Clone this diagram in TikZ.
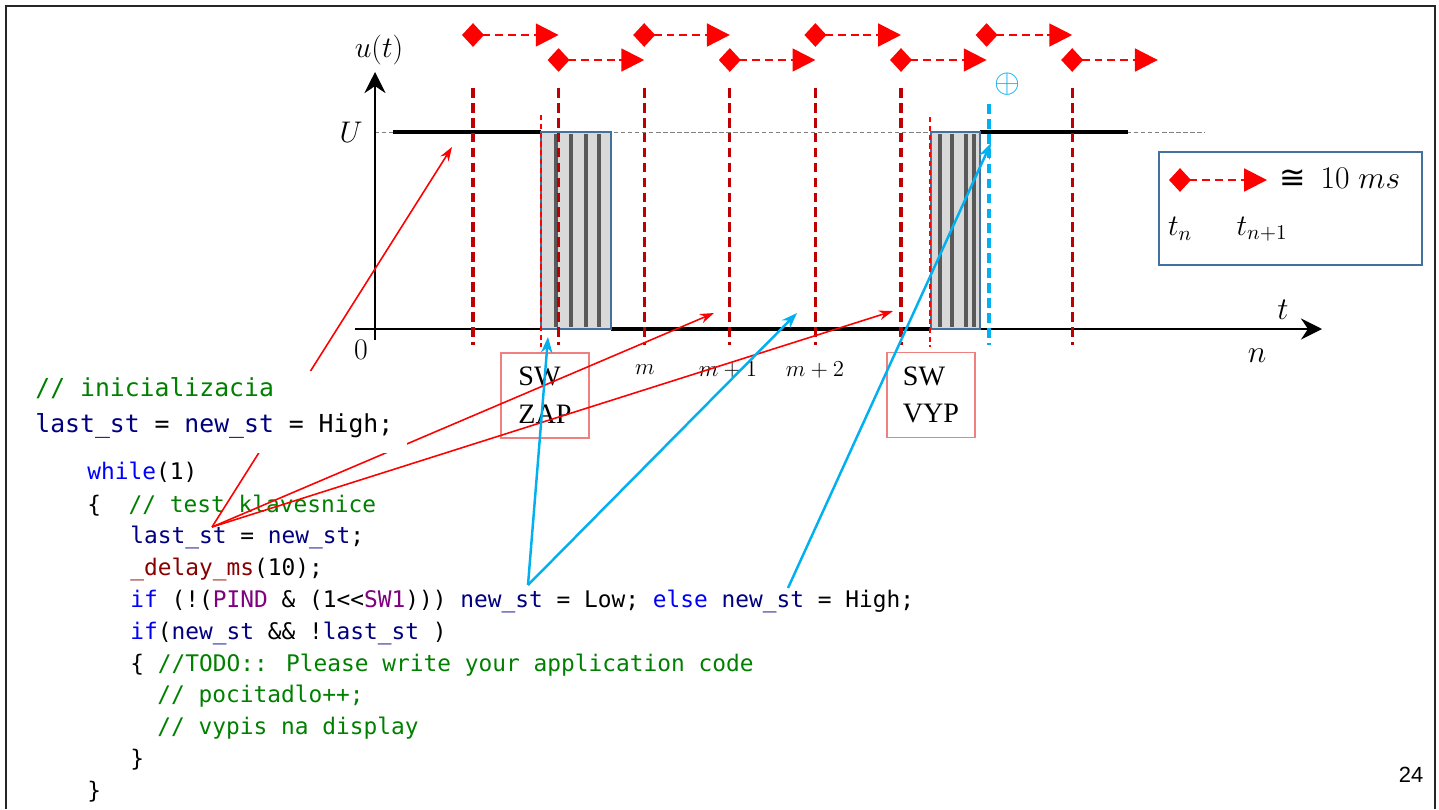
\RequirePackage{fix-cm}
\documentclass[tikz,border=0pt]{standalone}
\usepackage{fontspec}
\usepackage{amsmath}
\usepackage{tikz}
\usetikzlibrary{arrows.meta}
\newfontfamily\codefont{DejaVu Sans Mono}
\newfontfamily\swfont{Liberation Serif}
\newfontfamily\pgfont{Liberation Sans}
\newfontfamily\relfont{DejaVu Sans}
\definecolor{tickred}{RGB}{192,0,0}
\definecolor{hotred}{RGB}{255,0,0}
\definecolor{skyblue}{RGB}{0,176,240}
\definecolor{boxblue}{RGB}{65,113,156}
\definecolor{barfill}{RGB}{217,217,217}
\definecolor{bargray}{RGB}{89,89,89}
\definecolor{swred}{RGB}{240,128,128}
\definecolor{cgreen}{RGB}{0,128,0}
\definecolor{cnavy}{RGB}{0,0,128}
\definecolor{ckwblue}{RGB}{0,0,255}
\definecolor{cfnred}{RGB}{136,0,0}
\definecolor{cmacro}{RGB}{128,0,128}
\newcommand{\ccmt}[1]{\textcolor{cgreen}{#1}}
\newcommand{\cvar}[1]{\textcolor{cnavy}{#1}}
\newcommand{\ckw}[1]{\textcolor{ckwblue}{#1}}
\newcommand{\cfn}[1]{\textcolor{cfnred}{#1}}
\newcommand{\cmac}[1]{\textcolor{cmacro}{#1}}
\tikzset{
  slideframe/.style={line width=1.3pt, black!85},
  ulevel/.style={gray, line width=0.5pt, dash pattern=on 2.5pt off 1.5pt},
  axisline/.style={line width=1.1pt, -{Stealth[length=12pt,width=12pt,inset=4pt]}},
  sig/.style={line width=2.8pt},
  bounce/.style={fill=barfill, draw=boxblue, line width=1.3pt},
  chatter/.style={bargray, line width=2.2pt},
  edgeline/.style={hotred, line width=0.6pt, dash pattern=on 3pt off 2pt},
  tickline/.style={tickred, line width=1.8pt, dash pattern=on 5.5pt off 3pt},
  sampline/.style={skyblue, line width=1.8pt, dash pattern=on 5.5pt off 3pt},
  period/.style={hotred, line width=1.2pt, dash pattern=on 4.5pt off 2.8pt,
                 {Diamond[length=12.5pt,width=13.5pt]}-{Triangle[length=13pt,width=13pt]},
                 shorten <=-6.25pt},
  legbox/.style={draw=boxblue, line width=1.1pt, minimum width=5.26cm, minimum height=2.26cm},
  lbl/.style={inner sep=0pt, font=\fontsize{17}{20}\selectfont},
  idx/.style={inner sep=0pt, font=\fontsize{13}{16}\selectfont},
  swbox/.style={draw=swred, line width=0.6pt, minimum width=1.76cm, minimum height=1.7cm,
                align=left, inner sep=0pt, font=\swfont\fontsize{16}{21.5}\selectfont},
  codeln/.style={anchor=base west, inner sep=0pt, font=\codefont\fontsize{13}{18}\selectfont},
  initln/.style={codeln, font=\codefont\fontsize{14.1}{20}\selectfont},
  ptr/.style={hotred, line width=0.9pt, -{Stealth[length=8pt,width=5.5pt]}},
  bptr/.style={skyblue, line width=1.4pt, -{Stealth[length=9pt,width=6.5pt]}},
  pgnum/.style={inner sep=0pt, font=\pgfont\fontsize{12.5}{15}\selectfont},
}
\begin{document}
\begin{tikzpicture}[x=0.02cm, y=-0.02cm]
  \useasboundingbox (0,0) rectangle (1439,809);
  \draw[slideframe] (6,809) -- (6,6) -- (1435,6) -- (1435,809);

  % sample instants
  \foreach \k in {0,...,8} {
    \coordinate (up\k) at ({473+85.6*\k},35);
    \coordinate (dn\k) at ({473+85.6*\k},60);
  }

  % axes
  \draw[ulevel] (375,132) -- (1205,132);
  \draw[axisline] (375,340) -- (375,72);
  \draw[axisline] (355,329) -- (1322,329);
  \node[lbl] (ulab) at (379,50) {$u(t)$};
  \node[lbl] (Ulab) at (351,132) {$U$};
  \node[lbl] (zero) at (361,350) {$0$};
  \node[lbl, font=\fontsize{18}{20}\selectfont] (tlab) at (1283,310) {$t$};
  \node[lbl, font=\fontsize{18}{20}\selectfont] (nlab) at (1257,356) {$n$};

  % signal with bouncing contacts
  \draw[sig] (393,132) -- (541,132);
  \draw[sig] (611,329) -- (931,329);
  \draw[sig] (980,132) -- (1128,132);
  \filldraw[bounce] (541,132) rectangle (611,329);
  \foreach \x in {556,571,586,599} \draw[chatter] (\x,134) -- (\x,327);
  \filldraw[bounce] (931,132) rectangle (980,329);
  \foreach \x in {940,952,966,974} \draw[chatter] (\x,134) -- (\x,327);
  \draw[edgeline] (541,115) -- (541,347);
  \draw[edgeline] (930,117) -- (930,347);

  % sampling grid
  \foreach \k in {0,1,2,3,4,5,7} \draw[tickline] ({473+85.6*\k},88) -- ({473+85.6*\k},345);
  \draw[sampline] (989,104) -- (989,345);
  \node[lbl, text=skyblue, font=\fontsize{19}{20}\selectfont] (plus) at (1007,84) {$\oplus$};

  \foreach \k [evaluate=\k as \j using int(\k+1)] in {0,2,4,6}
    \draw[period] (up\k) -- (up\j);
  \foreach \k [evaluate=\k as \j using int(\k+1)] in {1,3,5,7}
    \draw[period] (dn\k) -- (dn\j);

  \node[idx] (mA) at (645,370) {$m$};
  \node[idx] (mB) at (728,370) {$m+1$};
  \node[idx] (mC) at (815,370) {$m+2$};

  % legend
  \node[legbox] (legend) at (1290.5,208.5) {};
  \coordinate (lg0) at (1180,180);
  \coordinate (lg1) at (1267,180);
  \draw[period] (lg0) -- (lg1);
  \node[lbl, anchor=west, font=\fontsize{18}{20}\selectfont] (tenms) at (1279,178) {{\relfont ≅}\, $10\;ms$};
  \node[lbl] (tn) at (1180,229) {$t_n$};
  \node[lbl] (tn1) at (1262,229) {$t_{n+1}$};

  % switch events
  \node[swbox] (swon) at (545,395.5) {SW\\ZAP};
  \node[swbox] (swoff) at (931,395) {SW\\VYP};

  % main loop
  \node[codeln] (lwhile) at (87,479) {\ckw{while}(1)};
  \node[codeln] (lopen) at (87,512) {\{\ \ \ccmt{// test klavesnice}};
  \node[codeln] (lsave) at (130,543) {\cvar{last\_st} = \cvar{new\_st};};
  \node[codeln] (ldelay) at (130,575) {\cfn{\_delay\_ms}(10);};
  \node[codeln] (lread) at (130,607) {\ckw{if} (!(\cmac{PIND} \& (1<{}<\cmac{SW1}))) \cvar{new\_st} = Low; \ckw{else} \cvar{new\_st} = High;};
  \node[codeln] (ltest) at (130,639) {\ckw{if}(\cvar{new\_st} \&\& !\cvar{last\_st} )};
  \node[codeln] (ltodo) at (130,671) {\{ \ccmt{//TODO:: Please write your application code}};
  \node[codeln] (lcount) at (157,702) {\ccmt{// pocitadlo++;}};
  \node[codeln] (lshow) at (157,734) {\ccmt{// vypis na display}};
  \node[codeln] (lclose) at (130,766) {\}};
  \node[codeln] (lend) at (87,798) {\}};

  % pointers
  \coordinate (fan) at (212,527);
  \coordinate (hiU) at (452,147);
  \coordinate (hiA) at (714,313);
  \coordinate (hiB) at (893,311);
  \coordinate (lowsrc) at (528,585);
  \coordinate (highsrc) at (788,588);
  \coordinate (loC) at (548,337);
  \coordinate (loD) at (797,313);
  \coordinate (hiE) at (991,143);
  \draw[ptr] (fan) -- (hiU);
  \draw[ptr] (fan) -- (hiA);
  \draw[ptr] (fan) -- (hiB);
  \draw[bptr] (lowsrc) -- (loC);
  \draw[bptr] (lowsrc) -- (loD);
  \draw[bptr] (highsrc) -- (hiE);

  % init
  \fill[white] (28,371) rectangle (407,453);
  \node[initln] (lcmt) at (35,396) {\ccmt{// inicializacia}};
  \node[initln] (linit) at (35,432) {\cvar{last\_st} = \cvar{new\_st} = High;};

  \node[pgnum] (page) at (1411,775) {24};
\end{tikzpicture}
\end{document}
